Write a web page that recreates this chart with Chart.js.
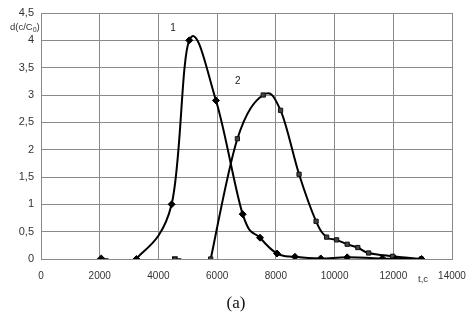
<!DOCTYPE html>
<html>
<head>
<meta charset="utf-8">
<script src="https://cdn.jsdelivr.net/npm/chart.js@4.4.0/dist/chart.umd.min.js"></script>
<style>
  html, body { margin: 0; padding: 0; background: #fff; }
  #wrap { width: 472px; height: 319px; }
</style>
</head>
<body>
<div id="wrap"><canvas id="chart" width="472" height="319"></canvas></div>
<script>
// Curve 1 (diamonds), time in s and d(c/C0)
const t1 = [3250, 4450, 5050, 5960, 6870, 7460, 8040, 8650, 9530, 10430, 11630, 12080, 12960];
const c1 = [0, 1.0, 4.0, 2.9, 0.82, 0.39, 0.1, 0.04, 0.01, 0.03, 0.01, 0.0, 0.0];
// Curve 2 (squares)
const t2 = [5780, 6690, 7570, 8160, 8790, 9370, 9730, 10070, 10430, 10790, 11160, 11980, 12950];
const c2 = [0, 2.2, 3.0, 2.72, 1.55, 0.69, 0.4, 0.35, 0.27, 0.21, 0.11, 0.05, 0.0];
// lone start points with their short stubs
const stub1 = [[2050, 0], [2300, 0]];
const stub2 = [[4560, 0], [4780, 0]];

const xTicks = [0, 2000, 4000, 6000, 8000, 10000, 12000, 14000];
const yTicks = [0, 0.5, 1, 1.5, 2, 2.5, 3, 3.5, 4, 4.5];

const toPts = (xs, ys) => xs.map((x, i) => ({ x: x, y: ys[i] }));

// Excel-like smoothing: uniform Catmull-Rom control points instead of
// Chart.js' distance weighted ones (only for the two main curves)
const SMOOTH_K = 0.18;
const uniformSpline = {
    id: 'uniformSpline',
    beforeDatasetDraw(chart, args) {
        if (args.index > 1) return;
        const meta = args.meta;
        meta.dataset.updateControlPoints(chart.chartArea);
        const pts = meta.data;
        const n = pts.length;
        for (let i = 0; i < n; i++) {
            const p = pts[i];
            const prev = pts[Math.max(i - 1, 0)];
            const next = pts[Math.min(i + 1, n - 1)];
            const dx = next.x - prev.x, dy = next.y - prev.y;
            p.cp1x = p.x - SMOOTH_K * dx;
            p.cp1y = p.y - SMOOTH_K * dy;
            p.cp2x = p.x + SMOOTH_K * dx;
            p.cp2y = p.y + SMOOTH_K * dy;
        }
    }
};

// Extra text: axis captions, curve numbers and "(a)"
const textPlugin = {
    id: 'extraText',
    afterDraw(chart) {
        const ctx = chart.ctx;
        const xs = chart.scales.x, ys = chart.scales.y;
        ctx.save();
        ctx.fillStyle = '#333';
        ctx.textBaseline = 'middle';
        // y caption d(c/C0)
        ctx.font = '9.5px "Liberation Sans", Arial, sans-serif';
        ctx.textAlign = 'left';
        let x0 = 10;
        ctx.fillText('d(c/C', x0, 27);
        let w = ctx.measureText('d(c/C').width;
        ctx.font = '7px "Liberation Sans", Arial, sans-serif';
        ctx.fillText('0', x0 + w, 30);
        let w2 = ctx.measureText('0').width;
        ctx.font = '9.5px "Liberation Sans", Arial, sans-serif';
        ctx.fillText(')', x0 + w + w2, 27);
        // x caption
        ctx.font = '9.5px "Liberation Sans", Arial, sans-serif';
        ctx.fillText('t,c', 418, 279);
        // curve numbers
        ctx.font = '10px "Liberation Sans", Arial, sans-serif';
        ctx.fillStyle = '#222';
        ctx.textAlign = 'center';
        ctx.fillText('1', xs.getPixelForValue(4500), ys.getPixelForValue(4.22));
        ctx.fillText('2', xs.getPixelForValue(6700), ys.getPixelForValue(3.25));
        // (a)
        ctx.font = '17px "Liberation Serif", "Times New Roman", serif';
        ctx.fillStyle = '#111';
        ctx.fillText('(a)', 236, 304);
        ctx.restore();
    }
};

new Chart(document.getElementById('chart'), {
    type: 'scatter',
    data: {
        datasets: [
            {
                data: toPts(t1, c1),
                showLine: true,
                tension: 0.4,
                borderColor: '#000',
                borderWidth: 2,
                pointStyle: 'rectRot',
                pointRadius: 3.5,
                pointBackgroundColor: '#000',
                pointBorderColor: '#000',
                pointBorderWidth: 1
            },
            {
                data: toPts(t2, c2),
                showLine: true,
                tension: 0.4,
                borderColor: '#000',
                borderWidth: 2,
                pointStyle: 'rect',
                pointRadius: 3,
                pointBackgroundColor: '#444',
                pointBorderColor: '#111',
                pointBorderWidth: 1
            },
            {
                data: stub1.map(p => ({ x: p[0], y: p[1] })),
                showLine: true,
                borderColor: '#000',
                borderWidth: 1.5,
                pointStyle: 'rectRot',
                pointRadius: [3.5, 0],
                pointBackgroundColor: '#000',
                pointBorderColor: '#000'
            },
            {
                data: stub2.map(p => ({ x: p[0], y: p[1] })),
                showLine: true,
                borderColor: '#000',
                borderWidth: 1.5,
                pointStyle: 'rect',
                pointRadius: [3, 0],
                pointBackgroundColor: '#444',
                pointBorderColor: '#111'
            }
        ]
    },
    options: {
        responsive: false,
        animation: false,
        layout: { padding: { top: 13, right: 20, left: 0, bottom: 0 } },
        elements: { line: { capBezierPoints: false } },
        plugins: {
            legend: { display: false },
            tooltip: { enabled: false }
        },
        scales: {
            x: {
                type: 'linear',
                min: 0,
                max: 14000,
                afterFit(scale) {
                    scale.height = 60;
                    scale.paddingRight = 0;
                    scale.paddingLeft = 0;
                },
                afterBuildTicks(scale) { scale.ticks = xTicks.map(v => ({ value: v })); },
                grid: { color: '#8a8a8a', lineWidth: 1, tickLength: 0, drawTicks: false },
                border: { color: '#8a8a8a', width: 1 },
                ticks: {
                    padding: 11,
                    color: '#333',
                    font: { family: '"Liberation Sans", Arial, sans-serif', size: 10 },
                    callback: v => String(v),
                    maxRotation: 0
                }
            },
            y: {
                min: 0,
                max: 4.5,
                afterFit(scale) {
                    scale.width = 41;
                    scale.paddingTop = 0;
                    scale.paddingBottom = 0;
                },
                afterBuildTicks(scale) { scale.ticks = yTicks.map(v => ({ value: v })); },
                grid: { color: '#8a8a8a', lineWidth: 1, tickLength: 0, drawTicks: false },
                border: { color: '#8a8a8a', width: 1 },
                ticks: {
                    padding: 7,
                    color: '#333',
                    font: { family: '"Liberation Sans", Arial, sans-serif', size: 11 },
                    callback: v => String(v).replace('.', ',')
                }
            }
        }
    },
    plugins: [uniformSpline, textPlugin]
});
</script>
</body>
</html>
